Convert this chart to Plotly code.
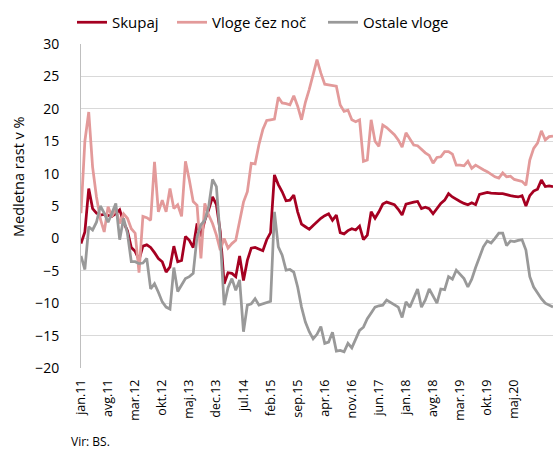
import plotly.graph_objects as go

MONTHS = ["jan", "feb", "mar", "apr", "maj", "jun", "jul", "avg", "sep", "okt", "nov", "dec"]
CATEGORIES = [f"{MONTHS[m]}.{y % 100:02d}" for y in range(2011, 2022) for m in range(12)][:123]

TICK_LABELS = ["jan.11", "avg.11", "mar.12", "okt.12", "maj.13", "dec.13", "jul.14",
               "feb.15", "sep.15", "apr.16", "nov.16", "jun.17", "jan.18", "avg.18",
               "mar.19", "okt.19", "maj.20"]

SKUPAJ = [
    -0.8, 1.0, 7.7, 4.6, 3.9, 3.6, 3.7, 3.6, 3.4, 3.8,
    4.4, 2.5, 1.2, -1.4, -2.0, -3.3, -1.2, -1.0, -1.4, -2.2,
    -3.1, -3.6, -5.2, -4.4, -1.2, -3.6, -3.4, 0.3, -0.3, -1.4,
    2.3, 0.3, 2.8, 4.4, 6.4, 5.2, 1.0, -7.0, -5.3, -5.4,
    -5.9, -2.7, -6.5, -3.4, -1.5, -1.4, -1.6, -1.9, -0.2, 0.9,
    9.8, 8.3, 7.2, 5.8, 5.9, 6.7, 4.1, 2.2, 1.8, 1.4,
    2.0, 2.6, 3.1, 3.5, 3.8, 2.8, 3.6, 0.9, 0.7, 1.2,
    1.5, 1.3, 1.9, -0.2, 0.5, 4.1, 3.1, 4.1, 5.3, 5.6,
    5.4, 5.2, 4.5, 3.6, 5.3, 5.5, 5.6, 5.7, 4.6, 4.8,
    4.6, 3.8, 4.6, 5.4, 5.9, 6.9, 6.4, 6.0, 5.7, 5.4,
    5.2, 5.5, 5.2, 6.8, 7.0, 7.1, 7.0, 6.9, 6.9, 6.9,
    6.7, 6.6, 6.5, 6.4, 6.6, 5.0, 6.6, 7.3, 7.6, 9.0,
    8.0, 8.1, 8.0,
]

VLOGE_CEZ_NOC = [
    3.9, 15.0, 19.5, 11.0, 6.4, 3.0, 1.0, 4.9, 3.4, 4.6,
    2.3, 3.8, 3.1, 1.5, 0.8, -5.3, 3.4, 3.2, 2.8, 11.8,
    4.1, 5.9, 4.1, 7.7, 4.6, 5.2, 3.4, 11.9, 9.0, 5.7,
    5.1, -3.1, 5.4, 3.6, 2.3, 0.5, -1.8, 0.0, -1.5, -0.8,
    -0.3, 2.5, 5.6, 7.2, 11.6, 11.5, 14.5, 16.8, 18.2, 18.3,
    18.4, 21.8, 20.9, 20.8, 20.6, 22.0, 20.4, 18.3, 21.0, 23.0,
    25.5, 27.6, 25.5, 23.8, 23.7, 23.6, 23.5, 20.6, 19.6, 19.8,
    18.3, 18.0, 18.3, 11.9, 12.1, 18.3, 15.0, 14.2, 17.5, 17.1,
    16.5, 16.0, 15.2, 14.1, 16.3, 15.3, 14.4, 14.3, 13.7, 13.2,
    12.8, 11.6, 12.5, 12.6, 13.4, 13.4, 13.0, 11.3, 11.3, 11.2,
    11.9, 10.8, 11.3, 10.9, 10.6, 10.3, 9.9, 9.5, 9.3, 10.1,
    9.5, 9.6, 9.1, 9.0, 8.8, 8.2, 12.1, 13.9, 14.7, 16.6,
    15.2, 15.7, 15.8,
]

OSTALE_VLOGE = [
    -2.7, -4.8, 1.8, 1.3, 2.5, 5.0, 3.9, 2.5, 3.9, 5.4,
    -0.2, 3.1, 0.8, -3.6, -3.6, -3.9, -3.8, -3.1, -7.8, -7.0,
    -8.3, -9.8, -10.6, -10.9, -4.5, -8.2, -7.2, -6.2, -5.9, -5.4,
    0.3, 2.1, 2.8, 4.9, 9.1, 8.0, 0.0, -10.3, -7.6, -6.2,
    -8.0, -6.4, -14.4, -10.3, -10.1, -9.3, -10.3, -10.1, -9.9, -9.7,
    4.1, -1.3, -2.6, -4.9, -4.8, -5.2, -7.5, -10.6, -12.9, -14.4,
    -15.5, -14.8, -13.6, -16.2, -16.0, -14.5, -17.4, -17.3, -17.5, -16.2,
    -16.9, -15.6, -14.2, -13.7, -12.4, -11.5, -10.6, -10.4, -10.3, -9.5,
    -9.9, -10.3, -10.6, -12.2, -9.8, -10.6, -9.2, -7.8, -10.6, -9.5,
    -7.8, -8.8, -10.0, -7.8, -7.9, -5.9, -6.3, -4.9, -5.5, -6.2,
    -7.5, -6.3, -4.5, -2.8, -1.3, -0.4, -0.7, 0.0, 0.8, 0.8,
    -1.1, -0.4, -0.5, -0.3, -0.2, -1.8, -5.9, -7.5, -8.5, -9.3,
    -10.0, -10.3, -10.6,
]

SERIES = [
    ("Skupaj", SKUPAJ, "#A50021", "legend", 72),
    ("Vloge čez noč", VLOGE_CEZ_NOC, "#E39A9A", "legend2", 172),
    ("Ostale vloge", OSTALE_VLOGE, "#999999", "legend3", 323),
]

FONT = "Open Sans"
W, H = 553, 452
L, R, T, B = 81, 0, 44, 84
plot_w = W - L - R
plot_h = H - T - B

fig = go.Figure()
legend_layouts = {}
for name, vals, color, leg, leg_x in SERIES:
    fig.add_trace(go.Scatter(
        x=CATEGORIES[:len(vals)], y=vals, mode="lines", name=name,
        line=dict(color=color, width=2.75), legend=leg,
    ))
    legend_layouts[leg] = dict(
        orientation="h", xref="container", x=leg_x / W, xanchor="left",
        yref="container", y=1 - 6 / H, yanchor="top",
        font=dict(family=FONT, size=15), bgcolor="rgba(0,0,0,0)",
        itemwidth=30,
    )

fig.update_layout(
    width=W, height=H,
    margin=dict(l=L, r=R, t=T, b=B, autoexpand=False),
    paper_bgcolor="white", plot_bgcolor="white",
    font=dict(family=FONT, size=14, color="#000000"),
    showlegend=True,
    xaxis=dict(
        type="category", categoryorder="array", categoryarray=CATEGORIES,
        range=[0, len(CATEGORIES) - 1], automargin=False,
        tickmode="array", tickvals=TICK_LABELS, ticktext=TICK_LABELS,
        tickangle=-90, tickfont=dict(family=FONT, size=12.5),
        showgrid=False, zeroline=False, showline=False, ticks="",
        ticklabelstandoff=8,
    ),
    yaxis=dict(
        range=[-20, 30], tick0=0, dtick=5, automargin=False,
        tickfont=dict(family=FONT, size=14),
        showgrid=True, gridcolor="#D9D9D9", gridwidth=1,
        zeroline=False, showline=True, linecolor="#BFBFBF", linewidth=1,
        ticks="", ticklabelstandoff=18,
    ),
    annotations=[
        dict(
            text="Medletna rast v %", xref="paper", yref="paper",
            x=(18 - L) / plot_w, y=(H - B - 177) / plot_h,
            xanchor="center", yanchor="middle", textangle=-90, showarrow=False,
            font=dict(family=FONT, size=14.5),
        ),
        dict(
            text="Vir: BS.", xref="paper", yref="paper",
            x=(69 - L) / plot_w, y=(H - B - 442) / plot_h,
            xanchor="left", yanchor="middle", showarrow=False,
            font=dict(family=FONT, size=12),
        ),
    ],
    **legend_layouts,
)

fig.write_html(
    "out.html",
    config={"displayModeBar": False},
    post_script="document.body.style.margin='0';document.body.style.overflow='hidden';",
)
